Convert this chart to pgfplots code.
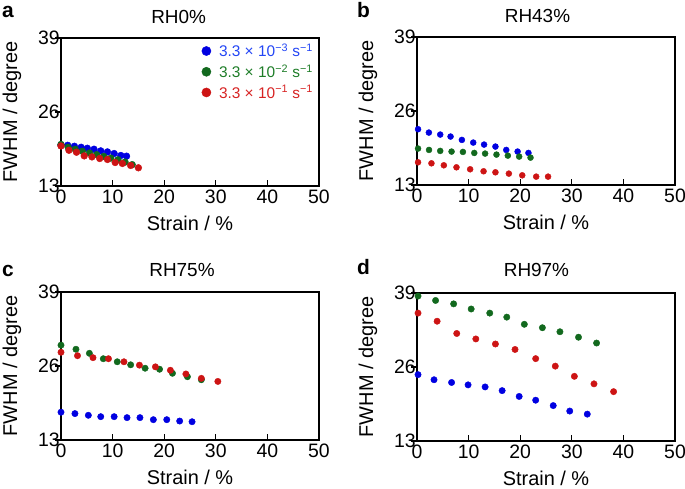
\documentclass[border=0pt]{standalone}
\usepackage{fontspec}
\setmainfont{Liberation Sans}
\usepackage{pgfplots}
\pgfplotsset{compat=1.18}
\definecolor{cblue}{RGB}{0,0,225}
\definecolor{cgreen}{RGB}{18,105,30}
\definecolor{cred}{RGB}{205,20,20}
\definecolor{tblue}{RGB}{35,70,245}
\definecolor{tgreen}{RGB}{30,125,40}
\definecolor{tred}{RGB}{215,35,35}
\pgfplotsset{
 panel/.style={
  scale only axis, width=258bp, height=148bp,
  xmin=0,xmax=50,ymin=13,ymax=39,
  xtick={0,10,20,30,40,50}, ytick={13,26,39},
  tick pos=left, tick align=inside,
  major tick length=6bp,
  every y tick/.append style={xshift=-6bp},
  axis line style={line width=1.2bp},
  every tick/.append style={line width=1.2bp, black},
  tick label style={font=\fontsize{19.5}{20}\selectfont},
  /pgf/number format/assume math mode=true,
  yticklabel style={inner sep=1bp},
  xlabel={Strain / \%}, ylabel={FWHM / degree},
  label style={font=\fontsize{20}{22}\selectfont},
  xlabel style={at={(axis description cs:0.5,-0.302)}, anchor=base},
  ylabel style={at={(axis description cs:-0.170,0.5)}, anchor=base},
  title style={font=\fontsize{19}{20}\selectfont, anchor=base},
  clip=false,
 },
 sb/.style={only marks, mark=*, color=cblue, mark options={fill=cblue, draw=cblue}},
 sg/.style={only marks, mark=*, color=cgreen, mark options={fill=cgreen, draw=cgreen}},
 sr/.style={only marks, mark=*, color=cred, mark options={fill=cred, draw=cred}},
}
\begin{document}
\begin{tikzpicture}
\path[use as bounding box] (0,0) rectangle (685bp,489bp);
% ---------- a
\begin{axis}[panel, at={(61bp,303bp)}, anchor=south west,
  title={RH0\%}, title style={at={(axis description cs:0.456,1.060)}},
  mark size=3.4bp,
  legend style={at={(rel axis cs:0.545,0.975)}, anchor=north west, draw=none, fill=none,
    inner sep=0pt, row sep=2.5bp, font=\fontsize{15.5}{18}\selectfont,
    nodes={inner sep=2bp},
    /tikz/every even column/.append style={column sep=5bp}},
  legend cell align=left,
  legend image code/.code={\draw[#1, mark size=4.6bp] plot coordinates {(0bp,0bp)};}]
\addplot[sb, mark size=3.4bp] coordinates {(0,20.2) (1.3,20.15) (2.6,19.98) (3.9,19.8) (5.1,19.63) (6.4,19.46) (7.7,19.17) (9.0,18.99) (10.3,18.7) (11.6,18.36) (12.7,18.24)};
\addlegendentry{\hspace*{6bp}\textcolor{tblue}{3.3 × 10\textsuperscript{−3} s\textsuperscript{−1}}}
\addplot[sg, mark size=3.4bp] coordinates {(0,20.3) (1.38,19.8) (2.76,19.45) (4.14,19.1) (5.52,18.8) (6.9,18.5) (8.28,18.2) (9.66,17.9) (11.04,17.6) (12.42,17.2) (13.8,16.75)};
\addlegendentry{\hspace*{6bp}\textcolor{tgreen}{3.3 × 10\textsuperscript{−2} s\textsuperscript{−1}}}
\addplot[sr, mark size=3.4bp] coordinates {(0,20.03) (1.54,19.28) (3.0,18.93) (4.5,18.29) (6.0,18.11) (7.5,17.83) (9.0,17.66) (10.5,17.13) (11.9,16.96) (13.5,16.61) (15.0,16.2)};
\addlegendentry{\hspace*{6bp}\textcolor{tred}{3.3 × 10\textsuperscript{−1} s\textsuperscript{−1}}}
\end{axis}
% ---------- b
\begin{axis}[panel, at={(417bp,304bp)}, anchor=south west,
  title={RH43\%}, title style={at={(axis description cs:0.467,1.055)}}]
\addplot[sb, mark size=3bp] coordinates {(0.2,22.8) (2.3,22.21) (4.5,21.86) (6.5,21.51) (8.7,20.92) (10.9,20.45) (13.0,20.1) (15.2,19.75) (17.3,19.16) (19.5,18.87) (21.6,18.63)};
\addplot[sg, mark size=3bp] coordinates {(0.2,19.4) (2.33,19.16) (4.5,18.99) (6.7,18.87) (8.9,18.81) (11.1,18.63) (13.2,18.52) (15.4,18.34) (17.6,18.16) (19.8,17.99) (22.0,17.81)};
\addplot[sr, mark size=3bp] coordinates {(0.2,16.99) (2.8,16.81) (5.2,16.46) (7.65,16.11) (10.3,15.76) (12.9,15.41) (15.2,15.23) (17.8,15.0) (20.4,14.7) (23.1,14.47) (25.4,14.47)};
\end{axis}
% ---------- c
\begin{axis}[panel, at={(61bp,49bp)}, anchor=south west,
  title={RH75\%}, title style={at={(axis description cs:0.469,1.062)}}]
\addplot[sb, mark size=3.2bp] coordinates {(0,17.88) (2.7,17.64) (5.3,17.34) (7.7,17.1) (10.3,17.1) (12.8,16.93) (15.3,16.93) (17.9,16.57) (20.5,16.57) (23.0,16.33) (25.4,16.21)};
\addplot[sg, mark size=3.2bp] coordinates {(0,29.66) (2.9,28.94) (5.5,28.23) (8.2,27.28) (10.9,26.74) (13.5,26.21) (16.3,25.61) (19.1,25.43) (21.6,24.72) (24.5,24.12) (27.2,23.59)};
\addplot[sr, mark size=3.2bp] coordinates {(0,28.41) (3.2,27.81) (6.2,27.46) (9.2,27.28) (12.2,26.74) (15.2,26.15) (18.3,25.85) (21.2,25.25) (24.2,24.6) (27.2,23.83) (30.4,23.29)};
\end{axis}
% ---------- d
\begin{axis}[panel, at={(417bp,48bp)}, anchor=south west,
  title={RH97\%}, title style={at={(axis description cs:0.463,1.07)}}]
\addplot[sb, mark size=3.2bp] coordinates {(0.2,24.66) (3.3,23.76) (6.7,23.28) (9.9,22.86) (13.2,22.5) (16.5,21.85) (19.8,20.83) (23.0,20.17) (26.4,19.22) (29.6,18.26) (33.0,17.72)};
\addplot[sg, mark size=3.2bp] coordinates {(0.2,38.46) (3.6,37.69) (7.1,37.09) (10.5,36.19) (14.1,35.47) (17.4,34.76) (20.8,33.5) (24.3,32.9) (27.7,32.19) (31.3,31.23) (34.8,30.21)};
\addplot[sr, mark size=3.2bp] coordinates {(0.2,35.47) (3.9,34.04) (7.7,31.89) (11.4,30.93) (15.2,30.04) (19.0,29.08) (23.0,27.47) (26.8,26.15) (30.5,24.36) (34.3,23.04) (38.1,21.67)};
\end{axis}
% panel letters
\node[anchor=base west, font=\fontsize{21}{22}\selectfont\bfseries, inner sep=0pt] at (2bp,471bp) {a};
\node[anchor=base west, font=\fontsize{21}{22}\selectfont\bfseries, inner sep=0pt] at (357bp,471bp) {b};
\node[anchor=base west, font=\fontsize{21}{22}\selectfont\bfseries, inner sep=0pt] at (2bp,212bp) {c};
\node[anchor=base west, font=\fontsize{21}{22}\selectfont\bfseries, inner sep=0pt] at (357bp,214bp) {d};
\end{tikzpicture}
\end{document}
